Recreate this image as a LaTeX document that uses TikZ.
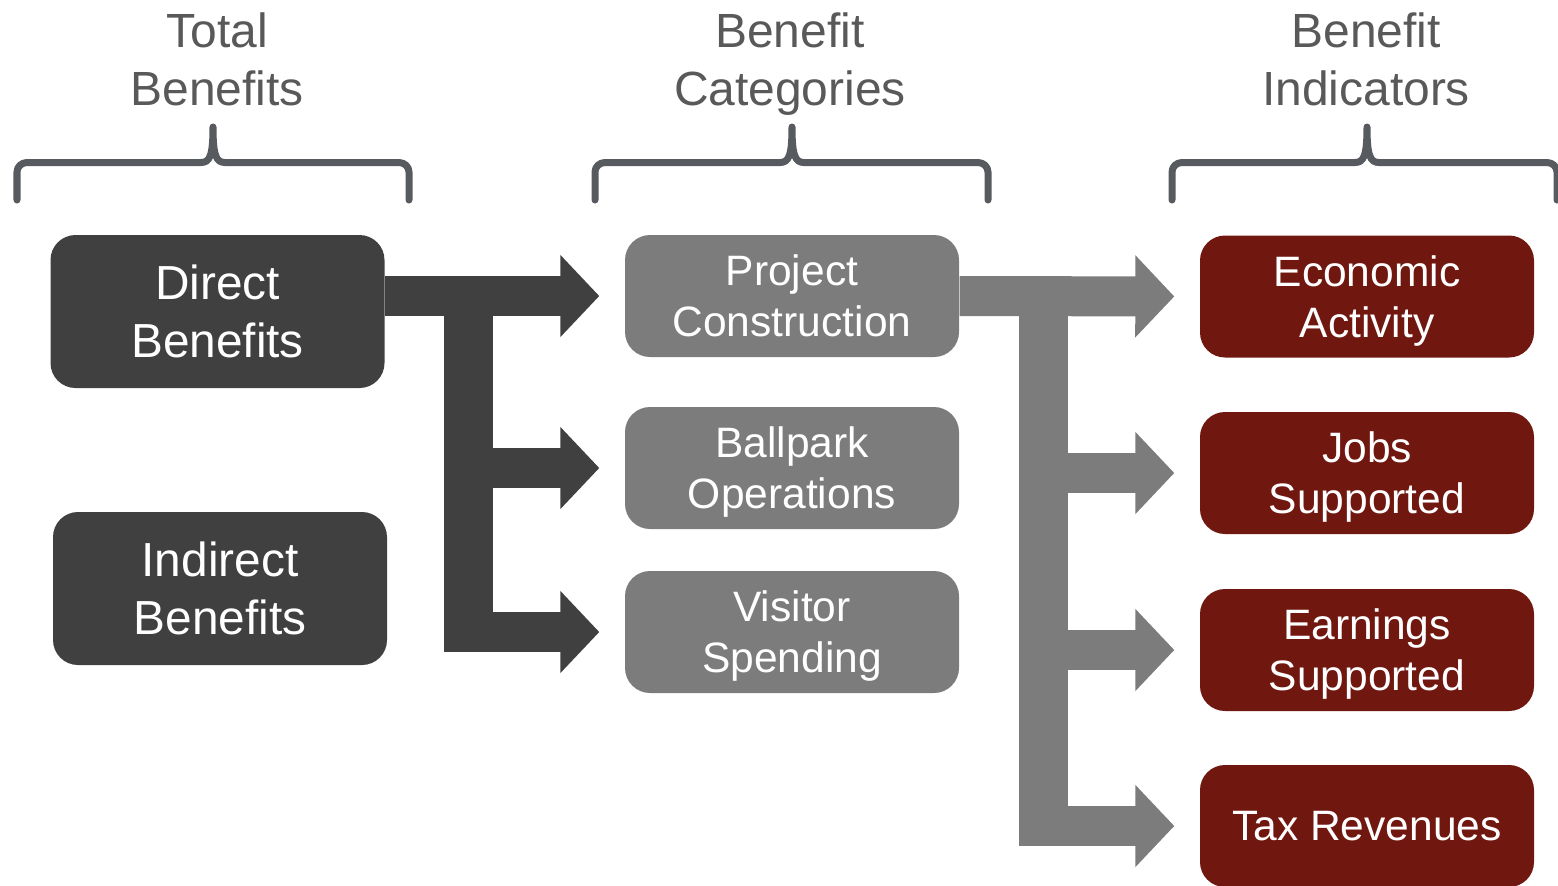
\documentclass[tikz,border=0pt]{standalone}
\usepackage{fontspec}
\setmainfont{Liberation Sans}
\usetikzlibrary{arrows.meta}

\definecolor{scuro}{HTML}{404040}
\definecolor{grigio}{HTML}{7B7C7B}
\definecolor{rosso}{HTML}{701710}
\definecolor{graffacol}{HTML}{575A5E}
\definecolor{titolo}{HTML}{595959}

\tikzset{
	box/.style={rounded corners=0.25cm, minimum width=3.34cm, inner sep=0pt, align=center, text=white, text depth=0pt},
	boxD/.style={box, fill=scuro, minimum height=1.53cm, font=\fontsize{13.6}{16.5}\selectfont},
	boxG/.style={box, fill=grigio, minimum height=1.22cm, font=\fontsize{12.1}{14.5}\selectfont},
	boxR/.style={box, fill=rosso, minimum height=1.22cm, font=\fontsize{12.1}{14.5}\selectfont},
	titolo/.style={anchor=north, inner sep=0pt, align=center, text=titolo, font=\fontsize{13.65}{16.5}\selectfont},
	graffa/.style={draw=graffacol, line width=0.07cm, line cap=round, line join=round},
	freccia/.style={line width=0.4cm, -{Triangle[length=0.39cm,width=0.8cm]}, shorten >=0.25cm},
	asta/.style={line width=0.49cm}
}

\begin{document}
\begin{tikzpicture}
		\useasboundingbox (0,0) rectangle (15.58,-8.85);
		% Titoli
		\node[titolo] (tTot) at (2.17,-0.125) {Total\\Benefits};
		\node[titolo] (tCat) at (7.9,-0.125) {Benefit\\Categories};
		\node[titolo] (tInd) at (13.66,-0.125) {Benefit\\Indicators};
		
		% Graffe
		\foreach \a/\m/\b in {0.17/2.13/4.09, 5.95/7.92/9.88, 11.72/13.67/15.57}{
			\draw[graffa] (\a,-2.0) -- (\a,-1.72) to[out=90,in=180] ({\a+0.1},-1.625) -- ({\m-0.12},-1.625)
				.. controls ({\m-0.03},-1.625) and (\m,-1.55) .. (\m,-1.27)
				.. controls (\m,-1.55) and ({\m+0.03},-1.625) .. ({\m+0.12},-1.625)
				-- ({\b-0.1},-1.625) to[out=0,in=90] (\b,-1.72) -- (\b,-2.0);
		}
		
		% Benefici
		\node[boxD] (dir) at (2.175,-3.115) {Direct\\Benefits};
		\node[boxD] (ind) at (2.2,-5.885) {Indirect\\Benefits};
		
		% Categorie
		\node[boxG] (proj) at (7.92,-2.96) {Project\\Construction};
		\node[boxG] (ball) at (7.92,-4.68) {Ballpark\\Operations};
		\node[boxG] (vis) at (7.92,-6.32) {Visitor\\Spending};
		
		% Indicatori
		\node[boxR] (econ) at (13.67,-2.965) {Economic\\Activity};
		\node[boxR] (jobs) at (13.67,-4.73) {Jobs\\Supported};
		\node[boxR] (earn) at (13.67,-6.5) {Earnings\\Supported};
		\node[boxR] (tax) at (13.67,-8.26) {Tax Revenues};
		
		% Frecce scure
		\coordinate (jD) at (4.685,0);
		\draw[asta, scuro, shorten >=-0.2cm] (jD |- proj.west) -- (jD |- vis.west);
		\draw[freccia, scuro] (dir.east |- proj.west) -- (proj.west);
		\draw[freccia, scuro] (jD |- ball.west) -- (ball.west);
		\draw[freccia, scuro] (jD |- vis.west) -- (vis.west);
		
		% Frecce grigie
		\coordinate (jG) at (10.435,0);
		\draw[asta, grigio, shorten >=-0.2cm] (jG |- econ.west) -- (jG |- tax.west);
		\draw[freccia, grigio] (proj.east) -- (econ.west);
		\draw[freccia, grigio] (jG |- jobs.west) -- (jobs.west);
		\draw[freccia, grigio] (jG |- earn.west) -- (earn.west);
		\draw[freccia, grigio] (jG |- tax.west) -- (tax.west);
\end{tikzpicture}
\end{document}
